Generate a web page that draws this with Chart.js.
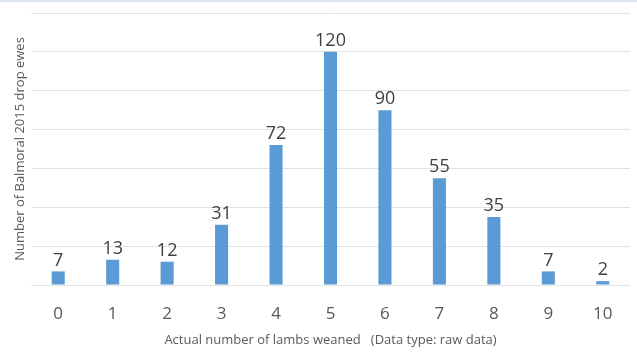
<!DOCTYPE html>
<html lang="en">
<head>
    <meta charset="UTF-8">
    <title>Lambs weaned</title>
    <style>
        html, body { margin: 0; padding: 0; background: #fff; }
        #wrap { width: 637px; height: 354px; position: relative; border-top: 2px solid #dde6f0; box-sizing: border-box; }
    </style>
</head>
<body>
    <div id="wrap">
        <canvas id="myChart" width="637" height="352"></canvas>
    </div>

    <script src="https://cdn.jsdelivr.net/npm/chart.js"></script>

    <script>
        // categories: number of lambs weaned
        const lambs = ['0', '1', '2', '3', '4', '5', '6', '7', '8', '9', '10'];
        // number of ewes per category
        const ewes = [7, 13, 12, 31, 72, 120, 90, 55, 35, 7, 2];

        const textColor = '#595959';

        // writes the value above each bar
        const barValues = {
            id: 'barValues',
            afterDatasetsDraw(chart) {
                const c = chart.ctx;
                const meta = chart.getDatasetMeta(0);
                c.save();
                c.font = '18px "Open Sans", sans-serif';
                c.fillStyle = '#404040';
                c.textAlign = 'center';
                c.textBaseline = 'bottom';
                meta.data.forEach((bar, i) => {
                    c.fillText(ewes[i], bar.x, bar.y - 2);
                });
                c.restore();
            }
        };

        new Chart(document.getElementById('myChart'), {
            type: 'bar',
            data: {
                labels: lambs,
                datasets: [{
                    data: ewes,
                    backgroundColor: '#5b9bd5',
                    categoryPercentage: 1,
                    barPercentage: 0.24
                }]
            },
            options: {
                responsive: false,
                animation: false,
                layout: { padding: { top: 11, right: 7, left: 0, bottom: 0 } },
                plugins: {
                    legend: { display: false },
                    tooltip: { enabled: false }
                },
                scales: {
                    x: {
                        grid: { display: false },
                        border: { display: false },
                        ticks: {
                            color: textColor,
                            padding: 11,
                            font: { size: 17, family: '"Open Sans", sans-serif' }
                        },
                        title: {
                            display: true,
                            text: 'Actual number of lambs weaned   (Data type: raw data)',
                            color: textColor,
                            padding: { top: 0, bottom: 6 },
                            font: { size: 13, family: '"Open Sans", sans-serif' }
                        },
                        afterFit: s => { s.height = 69; }
                    },
                    y: {
                        min: 0,
                        max: 140,
                        ticks: { display: false, stepSize: 20 },
                        grid: { color: '#e2e2e2', drawTicks: false },
                        border: { display: false },
                        title: {
                            display: true,
                            text: 'Number of Balmoral 2015 drop ewes',
                            color: textColor,
                            padding: { top: 12, bottom: 0 },
                            font: { size: 13, family: '"Open Sans", sans-serif' }
                        },
                        afterFit: s => { s.width = 31; }
                    }
                }
            },
            plugins: [barValues]
        });
    </script>
</body>
</html>
